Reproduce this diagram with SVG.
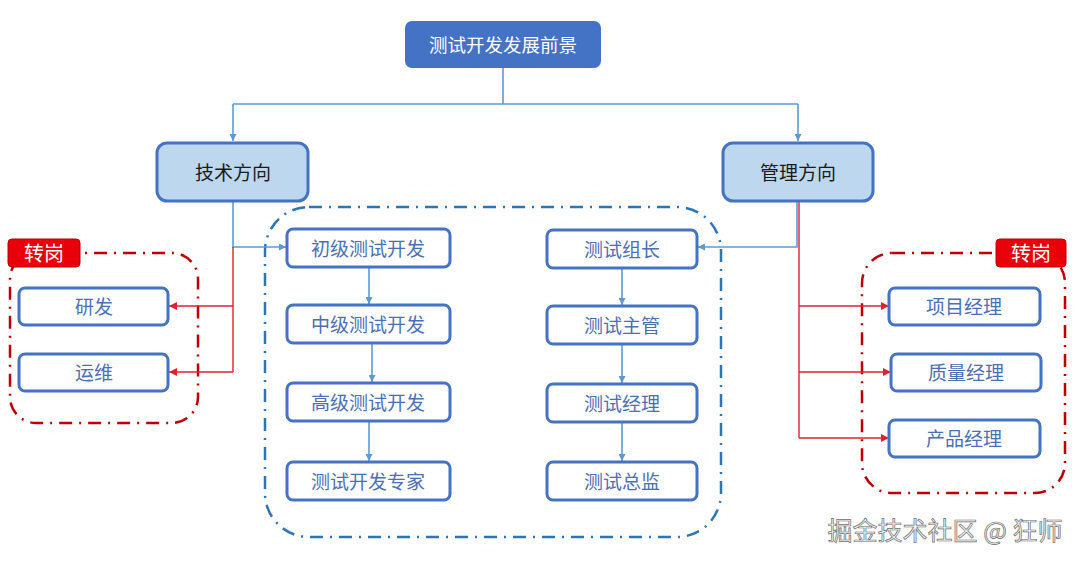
<svg xmlns="http://www.w3.org/2000/svg" width="1080" height="561" viewBox="0 0 1080 561">
<style>
text{font-family:"Noto Sans CJK SC","Noto Sans",sans-serif;text-anchor:middle;dominant-baseline:central}
.top{fill:#4472C4;stroke:#4472C4;stroke-width:2}
.dir{fill:#BDD7EE;stroke:#4472C4;stroke-width:3}
.box{fill:#fff;stroke:#4472C4;stroke-width:3}
.t-w{fill:#fff;font-size:18.5px}
.t-k{fill:#1a1a1a;font-size:19px}
.t-b{fill:#4a6fb5;font-size:19px}
.bl{fill:none;stroke:#5B9BD5;stroke-width:1.6}
.rd{fill:none;stroke:#E0202A;stroke-width:1.4}
.grpR{fill:none;stroke:#C00000;stroke-width:2.5;stroke-dasharray:13 7 2 7}
.grpB{fill:none;stroke:#2E75B6;stroke-width:2.5;stroke-dasharray:13 7 2 7}
.tag{fill:#E8000B;stroke:#C00000;stroke-width:1}
.t-tag{fill:#fff;font-size:20px}
.wm{fill:#f4f4f4;stroke:#6e6e6e;stroke-width:0.7;font-size:25px}
</style>
<defs>
<marker id="ab" viewBox="0 0 10 10" refX="10" refY="5" markerWidth="7" markerHeight="7" markerUnits="userSpaceOnUse" orient="auto"><path d="M0,0 L10,5 L0,10 z" fill="#5B9BD5"/></marker>
<marker id="ar" viewBox="0 0 10 10" refX="10" refY="5" markerWidth="8" markerHeight="8" markerUnits="userSpaceOnUse" orient="auto"><path d="M0,0 L10,5 L0,10 z" fill="#E0202A"/></marker>
</defs>
<g id="groups">
<rect x="10" y="253" width="188" height="170" rx="26" class="grpR"/>
<rect x="862" y="253" width="203" height="240" rx="30" class="grpR"/>
<rect x="265" y="207" width="456" height="330" rx="44" class="grpB"/>
</g>
<g id="connectors">
<path class="bl" d="M503,67 V104 M233,104 H798"/>
<path class="bl" d="M233,104 V141" marker-end="url(#ab)"/>
<path class="bl" d="M798,104 V141" marker-end="url(#ab)"/>
<path class="bl" d="M233,201 V247 H286" marker-end="url(#ab)"/>
<path class="bl" d="M797,201 V247 H698" marker-end="url(#ab)"/>
<path class="bl" d="M369,267 V304" marker-end="url(#ab)"/>
<path class="bl" d="M372,343 V382" marker-end="url(#ab)"/>
<path class="bl" d="M369,421 V461" marker-end="url(#ab)"/>
<path class="bl" d="M622,268 V305" marker-end="url(#ab)"/>
<path class="bl" d="M622,344 V383" marker-end="url(#ab)"/>
<path class="bl" d="M622,422 V461" marker-end="url(#ab)"/>
<path class="rd" d="M233,247 V372"/>
<path class="rd" d="M233,306 H169" marker-end="url(#ar)"/>
<path class="rd" d="M233,372 H169" marker-end="url(#ar)"/>
<path class="rd" d="M799,201 V438"/>
<path class="rd" d="M799,306 H889" marker-end="url(#ar)"/>
<path class="rd" d="M799,372 H891" marker-end="url(#ar)"/>
<path class="rd" d="M799,438 H889" marker-end="url(#ar)"/>
</g>
<g id="n-root"><rect x="406" y="22" width="194" height="45" rx="6" class="top"/><text x="503" y="44" class="t-w">测试开发发展前景</text></g>
<g id="n-tech"><rect x="157" y="143" width="151" height="58" rx="10" class="dir"/><text x="233" y="171" class="t-k">技术方向</text></g>
<g id="n-mgmt"><rect x="723" y="143" width="150" height="58" rx="10" class="dir"/><text x="798" y="171" class="t-k">管理方向</text></g>
<g id="tag-l"><rect x="8" y="239" width="72" height="28" rx="4" class="tag"/><text x="44" y="252" class="t-tag">转岗</text></g>
<g id="tag-r"><rect x="996" y="239" width="70" height="28" rx="4" class="tag"/><text x="1031" y="252" class="t-tag">转岗</text></g>
<g id="n-rd"><rect x="19" y="288" width="149" height="37" rx="6" class="box"/><text x="94" y="305" class="t-b">研发</text></g>
<g id="n-ops"><rect x="19" y="354" width="149" height="37" rx="6" class="box"/><text x="94" y="371" class="t-b">运维</text></g>
<g id="n-t1"><rect x="287" y="229" width="163" height="38" rx="6" class="box"/><text x="368" y="247" class="t-b">初级测试开发</text></g>
<g id="n-t2"><rect x="287" y="305" width="163" height="38" rx="6" class="box"/><text x="368" y="323" class="t-b">中级测试开发</text></g>
<g id="n-t3"><rect x="287" y="383" width="163" height="38" rx="6" class="box"/><text x="368" y="401" class="t-b">高级测试开发</text></g>
<g id="n-t4"><rect x="287" y="462" width="163" height="38" rx="6" class="box"/><text x="368" y="480" class="t-b">测试开发专家</text></g>
<g id="n-m1"><rect x="547" y="230" width="150" height="38" rx="6" class="box"/><text x="622" y="248" class="t-b">测试组长</text></g>
<g id="n-m2"><rect x="547" y="306" width="150" height="38" rx="6" class="box"/><text x="622" y="324" class="t-b">测试主管</text></g>
<g id="n-m3"><rect x="547" y="384" width="150" height="38" rx="6" class="box"/><text x="622" y="402" class="t-b">测试经理</text></g>
<g id="n-m4"><rect x="547" y="462" width="150" height="38" rx="6" class="box"/><text x="622" y="480" class="t-b">测试总监</text></g>
<g id="n-pm"><rect x="889" y="288" width="151" height="37" rx="6" class="box"/><text x="964" y="305" class="t-b">项目经理</text></g>
<g id="n-qm"><rect x="891" y="354" width="150" height="37" rx="6" class="box"/><text x="966" y="371" class="t-b">质量经理</text></g>
<g id="n-prm"><rect x="889" y="420" width="151" height="37" rx="6" class="box"/><text x="964" y="437" class="t-b">产品经理</text></g>
<text x="945" y="529" class="wm">掘金技术社区 @ 狂师</text>
</svg>
